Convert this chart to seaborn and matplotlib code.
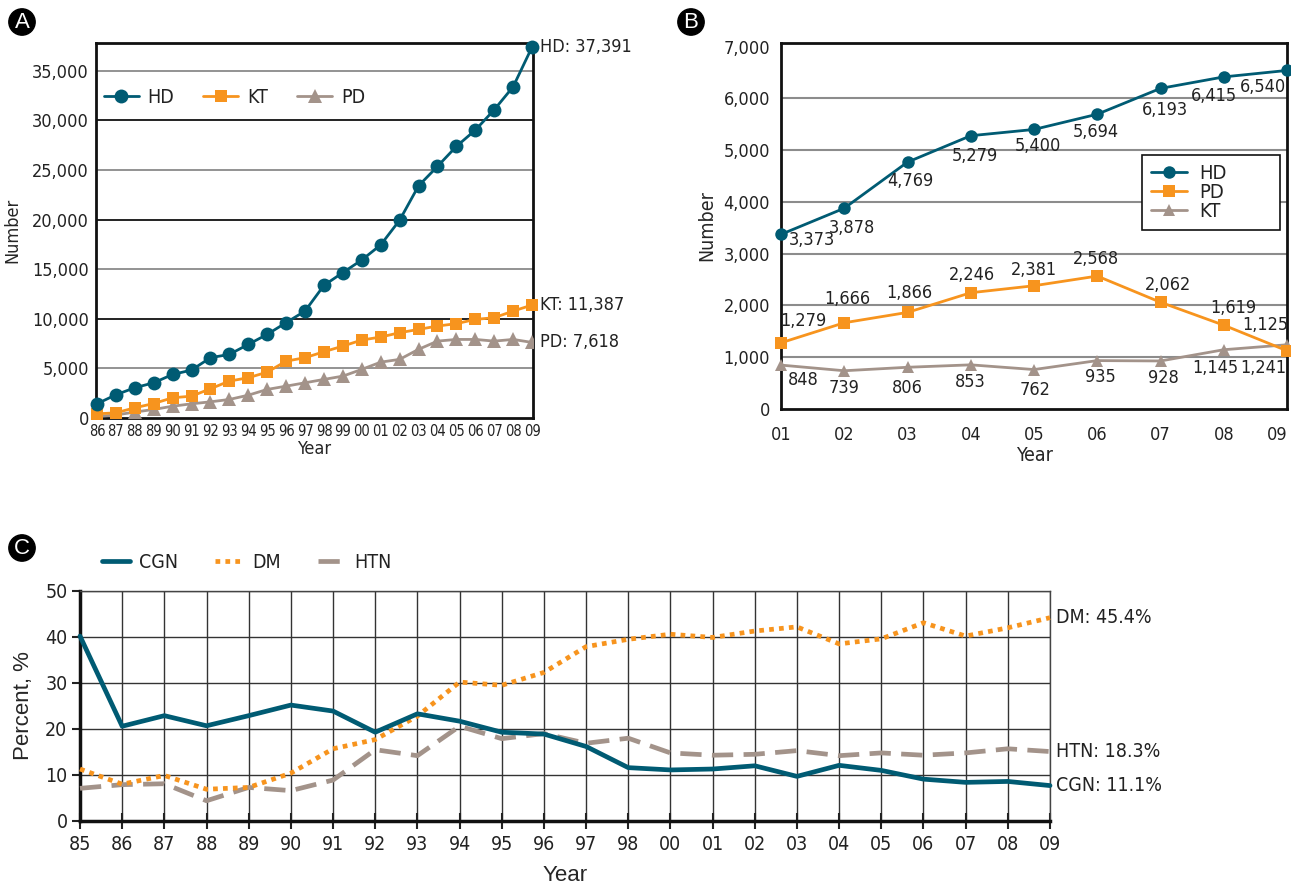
"""Dialysis / kidney transplant trends: three-panel line chart."""

import matplotlib

matplotlib.use("Agg")

import matplotlib.pyplot as plt
import numpy as np
import seaborn as sns
from matplotlib import font_manager

# ---- Panel A: cumulative patients by modality, 1986-2009 ----
years_a = ["86", "87", "88", "89", "90", "91", "92", "93", "94", "95", "96", "97",
           "98", "99", "00", "01", "02", "03", "04", "05", "06", "07", "08", "09"]
hd_a = [1430, 2340, 3050, 3550, 4390, 4830, 6080, 6410, 7420, 8430, 9610, 10780,
        13370, 14660, 15930, 17450, 19940, 23400, 25360, 27380, 29020, 31070, 33390, 37391]
kt_a = [420, 520, 1030, 1460, 2040, 2200, 2950, 3720, 4060, 4620, 5730, 6080,
        6680, 7250, 7860, 8160, 8600, 8930, 9270, 9510, 9940, 10110, 10780, 11387]
pd_a = [150, 300, 600, 860, 1190, 1430, 1630, 1870, 2300, 2880, 3210, 3550,
        3890, 4220, 4900, 5630, 5910, 6920, 7750, 7920, 7920, 7750, 7920, 7618]
end_labels_a = ["HD: 37,391", "KT: 11,387", "PD: 7,618"]

# ---- Panel B: new patients per year, 2001-2009 ----
years_b = ["01", "02", "03", "04", "05", "06", "07", "08", "09"]
hd_b = [3373, 3878, 4769, 5279, 5400, 5694, 6193, 6415, 6540]
pd_b = [1279, 1666, 1866, 2246, 2381, 2568, 2062, 1619, 1125]
kt_b = [848, 739, 806, 853, 762, 935, 928, 1145, 1241]

# ---- Panel C: primary disease share, % ----
years_c = ["85", "86", "87", "88", "89", "90", "91", "92", "93", "94", "95", "96",
           "97", "98", "00", "01", "02", "03", "04", "05", "06", "07", "08", "09"]
cgn_c = [40.2, 20.6, 22.9, 20.7, 22.9, 25.2, 23.9, 19.3, 23.3, 21.7, 19.3, 18.9,
         16.2, 11.6, 11.1, 11.3, 12.0, 9.7, 12.1, 11.0, 9.1, 8.4, 8.6, 7.7]
dm_c = [11.3, 8.0, 9.9, 6.9, 7.3, 10.4, 15.7, 17.7, 22.8, 30.2, 29.5, 32.3,
        37.9, 39.5, 40.6, 39.9, 41.3, 42.2, 38.5, 39.6, 43.1, 40.2, 42.0, 44.2]
htn_c = [7.1, 7.9, 8.1, 4.4, 7.3, 6.6, 8.9, 15.5, 14.2, 20.6, 17.9, 19.0,
         16.9, 18.0, 14.8, 14.3, 14.5, 15.3, 14.2, 14.8, 14.3, 14.8, 15.7, 15.1]
end_labels_c = ["DM: 45.4%", "HTN: 18.3%", "CGN: 11.1%"]

TEAL = "#005b73"
ORANGE = "#f7941e"
TAUPE = "#a3938a"

# where the value labels of panel B sit relative to their marker (pixels, +y is up)
offsets_hd_b = [(31, -6), (8, -20), (3, -19), (4, -20), (4, -17), (-1, -18), (4, -22), (-10, -19), (-24, -17)]
offsets_pd_b = [(22, 22), (3, 24), (2, 19), (1, 18), (0, 16), (-1, 17), (8, 17), (10, 17), (-22, 26)]
offsets_kt_b = [(22, -15), (0, -17), (0, -21), (-1, -17), (1, -20), (3, -16), (3, -17), (-8, -18), (-24, -23)]

W, H = 1291, 885

sns.set_theme(style="white")

# the original uses a condensed sans; take one if the machine has it
narrow = None
for f in font_manager.fontManager.ttflist:
    is_narrow = ("Narrow" in f.name or "Condensed" in f.name
                 or f.stretch in ("condensed", "semi-condensed", "extra-condensed", 500, 600, 700))
    if is_narrow and f.style == "normal" and f.weight in ("normal", "regular", 400):
        narrow = f
        break

if narrow is not None:
    plt.rcParams["font.family"] = [narrow.name, "DejaVu Sans"]
    plt.rcParams["font.stretch"] = narrow.stretch
    SCALE = 1.0
else:
    plt.rcParams["font.family"] = ["Liberation Sans", "DejaVu Sans"]
    SCALE = 0.95
plt.rcParams["text.color"] = "#222222"
plt.rcParams["xtick.color"] = "#222222"
plt.rcParams["ytick.color"] = "#222222"


def fs(size):
    return size * SCALE


def box(left, top, right, bottom):
    return [left / W, 1 - bottom / H, (right - left) / W, (bottom - top) / H]


fig = plt.figure(figsize=(W / 100, H / 100), dpi=100)
ax_a = fig.add_axes(box(96, 43, 533, 418))
ax_b = fig.add_axes(box(781, 43, 1287, 409))
ax_c = fig.add_axes(box(80, 591, 1050, 821))

# ---------------- Panel A ----------------
x_a = np.arange(len(years_a))
sns.lineplot(x=x_a, y=pd_a, ax=ax_a, color=TAUPE, marker="^", markersize=10,
             markeredgewidth=0, linewidth=2, label="PD", zorder=3)
sns.lineplot(x=x_a, y=kt_a, ax=ax_a, color=ORANGE, marker="s", markersize=9,
             markeredgewidth=0, linewidth=2, label="KT", clip_on=False, zorder=4)
sns.lineplot(x=x_a, y=hd_a, ax=ax_a, color=TEAL, marker="o", markersize=10,
             markeredgewidth=0, linewidth=2, label="HD", clip_on=False, zorder=5)

ax_a.set_xlim(-0.05, 23.05)
ax_a.set_ylim(0, 37800)
yt_a = np.arange(0, 35001, 5000)
ax_a.set_yticks(yt_a, [f"{v:,}" for v in yt_a])
for v in yt_a[1:]:
    ax_a.axhline(v, color="#111111" if v % 10000 == 0 else "#8a8a8a", lw=1.3, zorder=1)
ax_a.set_xticks(x_a, years_a)
ax_a.tick_params(axis="x", direction="in", length=6, width=1.5, labelsize=fs(10.5), pad=4)
ax_a.tick_params(axis="y", length=0, labelsize=fs(13), pad=5)
ax_a.set_xlabel("Year", fontsize=fs(13), labelpad=1)
ax_a.set_ylabel("Number", fontsize=fs(13), labelpad=8)
for s in ax_a.spines.values():
    s.set_color("#111111")
    s.set_linewidth(2)

h, l = ax_a.get_legend_handles_labels()
order = [l.index(n) for n in ["HD", "KT", "PD"]]
ax_a.legend([h[i] for i in order], [l[i] for i in order], loc="center left",
            bbox_to_anchor=(0.0, 0.855), ncol=3, frameon=False, fontsize=fs(14),
            handlelength=1.8, columnspacing=1.5, handletextpad=0.45, borderaxespad=0)

for vals, txt in zip([hd_a, kt_a, pd_a], end_labels_a):
    ax_a.annotate(txt, xy=(x_a[-1], vals[-1]), xytext=(8, 0), textcoords="offset pixels",
                  ha="left", va="center", fontsize=fs(13), annotation_clip=False)

# ---------------- Panel B ----------------
x_b = np.arange(len(years_b))
sns.lineplot(x=x_b, y=kt_b, ax=ax_b, color=TAUPE, marker="^", markersize=9,
             markeredgewidth=0, linewidth=2, label="KT", clip_on=False, zorder=3)
sns.lineplot(x=x_b, y=pd_b, ax=ax_b, color=ORANGE, marker="s", markersize=8,
             markeredgewidth=0, linewidth=2, label="PD", clip_on=False, zorder=4)
sns.lineplot(x=x_b, y=hd_b, ax=ax_b, color=TEAL, marker="o", markersize=9,
             markeredgewidth=0, linewidth=2, label="HD", clip_on=False, zorder=5)

ax_b.set_xlim(0, 8)
ax_b.set_ylim(0, 7070)
yt_b = np.arange(0, 7001, 1000)
ax_b.set_yticks(yt_b, [f"{v:,}" for v in yt_b])
for v in yt_b[1:-1]:
    ax_b.axhline(v, color="#8c8c8c", lw=1.5, zorder=1)
ax_b.set_xticks(x_b, years_b)
ax_b.tick_params(axis="x", direction="in", length=6, width=1.5, labelsize=fs(13), pad=12)
ax_b.tick_params(axis="y", length=0, labelsize=fs(13), pad=8)
ax_b.get_xticklabels()[-1].set_horizontalalignment("right")
ax_b.set_xlabel("Year", fontsize=fs(14), labelpad=2)
ax_b.set_ylabel("Number", fontsize=fs(14), labelpad=5)
for s in ax_b.spines.values():
    s.set_color("#111111")
    s.set_linewidth(2)

for vals, offs in [(hd_b, offsets_hd_b), (pd_b, offsets_pd_b), (kt_b, offsets_kt_b)]:
    for i, v in enumerate(vals):
        ax_b.annotate(f"{v:,}", xy=(x_b[i], v), xytext=offs[i],
                      textcoords="offset pixels", ha="center", va="center", fontsize=fs(13),
                      annotation_clip=False, zorder=6)

h, l = ax_b.get_legend_handles_labels()
order = [l.index(n) for n in ["HD", "PD", "KT"]]
leg_b = ax_b.legend([h[i] for i in order], [l[i] for i in order], loc="upper left",
                    bbox_to_anchor=(0.713, 0.40, 0.273, 0.294), mode="expand",
                    borderaxespad=0, fontsize=fs(14.5), handlelength=1.8, labelspacing=0.0,
                    handletextpad=0.6, fancybox=False, framealpha=1, borderpad=0.45)
leg_b.get_frame().set_edgecolor("#111111")
leg_b.get_frame().set_linewidth(1.2)

# ---------------- Panel C ----------------
x_c = np.arange(len(years_c))
sns.lineplot(x=x_c, y=htn_c, ax=ax_c, color=TAUPE, linewidth=3.4,
             linestyle=(0, (4.5, 2.2)), label="HTN", clip_on=False, zorder=3)
sns.lineplot(x=x_c, y=dm_c, ax=ax_c, color=ORANGE, linewidth=3.4,
             linestyle=(0, (1, 1.1)), label="DM", clip_on=False, zorder=4)
sns.lineplot(x=x_c, y=cgn_c, ax=ax_c, color=TEAL, linewidth=3.4,
             label="CGN", clip_on=False, zorder=5)

ax_c.set_xlim(0, 23)
ax_c.set_ylim(0, 50)
ax_c.set_yticks(np.arange(0, 51, 10))
ax_c.set_xticks(x_c, years_c)
ax_c.grid(True, color="#333333", lw=1)
ax_c.tick_params(axis="y", direction="out", length=6, width=1.5, labelsize=fs(14), pad=3, left=True)
ax_c.tick_params(axis="x", direction="inout", length=12, width=1.5, labelsize=fs(14), pad=4, bottom=True)
ax_c.set_xlabel("Year", fontsize=16, labelpad=8, family=["Liberation Sans", "DejaVu Sans"])
ax_c.set_ylabel("Percent, %", fontsize=16, labelpad=8, family=["Liberation Sans", "DejaVu Sans"])
for side in ["top", "right"]:
    ax_c.spines[side].set_color("#444444")
    ax_c.spines[side].set_linewidth(1)
for side in ["left", "bottom"]:
    ax_c.spines[side].set_color("#111111")
    ax_c.spines[side].set_linewidth(2.5)

h, l = ax_c.get_legend_handles_labels()
order = [l.index(n) for n in ["CGN", "DM", "HTN"]]
ax_c.legend([h[i] for i in order], [l[i] for i in order], loc="center left",
            bbox_to_anchor=(0.015, 1.125), ncol=3, frameon=False, fontsize=fs(14),
            handlelength=1.4, columnspacing=1.9, handletextpad=0.5, borderaxespad=0)

for vals, txt in zip([dm_c, htn_c, cgn_c], end_labels_c):
    ax_c.annotate(txt, xy=(x_c[-1], vals[-1]), xytext=(6, 0), textcoords="offset pixels",
                  ha="left", va="center", fontsize=fs(14), annotation_clip=False)

# ---------------- panel badges ----------------
for x, y, letter in [(22, 22, "A"), (691, 22, "B"), (22, 548, "C")]:
    fig.text(x / W, 1 - y / H, letter, ha="center", va="center", color="white",
             fontsize=16, family=["Liberation Sans", "DejaVu Sans"],
             bbox=dict(boxstyle="circle,pad=0.12", fc="black", ec="black"))

fig.savefig("out.png", dpi=100)
plt.close(fig)
